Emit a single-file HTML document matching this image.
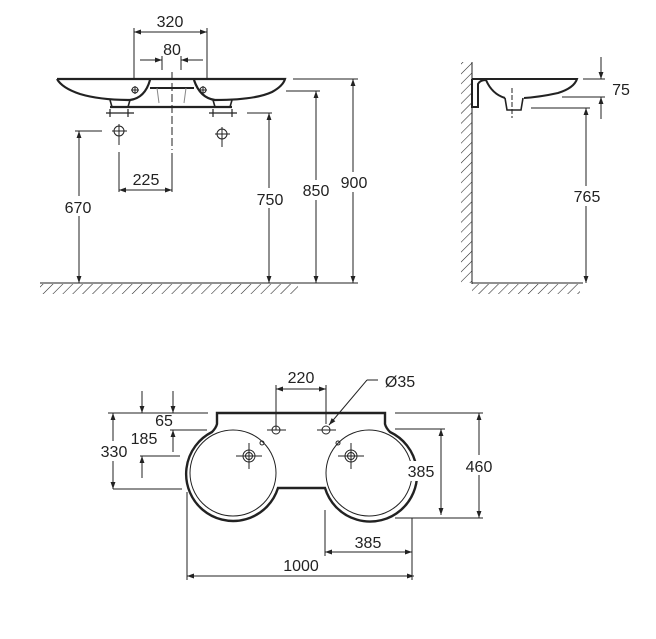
<!DOCTYPE html>
<html><head><meta charset="utf-8"><style>
html,body{margin:0;padding:0;background:#fff;}
svg{display:block;}
text{font-family:"Liberation Sans",sans-serif;font-size:16px;fill:#222;}
</style></head><body>
<svg width="656" height="639" viewBox="0 0 656 639" xmlns="http://www.w3.org/2000/svg">
<defs>
<marker id="a" viewBox="0 0 10 10" refX="10" refY="5" markerWidth="9" markerHeight="7" orient="auto-start-reverse" markerUnits="userSpaceOnUse"><path d="M0,1.5 L10,5 L0,8.5 Z" fill="#222"/></marker>
<pattern id="h" width="7" height="7" patternUnits="userSpaceOnUse" patternTransform="rotate(45)"><line x1="0" y1="0" x2="0" y2="7" stroke="#222" stroke-width="1.1"/></pattern>
</defs>
<g stroke="#222" fill="none" stroke-width="1">
<!-- FRONT VIEW -->
<rect x="40" y="284" width="258" height="10" fill="url(#h)" stroke="none"/>
<line x1="40" y1="283" x2="358" y2="283"/>
<path d="M57,79 H285 Q283,86 272,92 Q255,100 215,100 Q200,98 194,80 M57,79 Q62,88 80,94 Q100,100 130,100 Q145,98 150,80" stroke-width="2.2"/>
<line x1="150" y1="88" x2="194" y2="88" stroke-width="2"/>
<line x1="110" y1="107" x2="232" y2="107" stroke-width="2.2"/>
<path d="M157,88 L159,103 M186,88 L184,103" stroke="#888"/>
<path d="M110,100 L112,107 L128,107 L130,100 M213,100 L215,107 L230,107 L232,100" stroke-width="1.6"/>
<path d="M106,113 H134 M110,109 V117 M128,109 V117 M209,113 H237 M213,109 V117 M232,109 V117" stroke-width="1.2"/>
<circle cx="119" cy="131" r="5"/><path d="M112,131 H127 M119,124 V145"/>
<circle cx="222" cy="134" r="5"/><path d="M215,134 H230 M222,127 V147"/>
<circle cx="135" cy="90" r="3"/><path d="M131,90 H139 M135,86 V94"/>
<circle cx="203" cy="90" r="3"/><path d="M199,90 H207 M203,86 V94"/>
<line x1="172" y1="72" x2="172" y2="150" stroke-dasharray="8,3"/>
<line x1="172" y1="153" x2="172" y2="192"/>
<path d="M134,79 V28 M207,79 V28"/>
<line x1="134" y1="32" x2="207" y2="32" marker-start="url(#a)" marker-end="url(#a)"/>
<path d="M162,56 V70 M181,56 V70"/>
<line x1="140" y1="60" x2="162" y2="60" marker-end="url(#a)"/>
<line x1="203" y1="60" x2="181" y2="60" marker-end="url(#a)"/>
<line x1="119" y1="152" x2="119" y2="192"/>
<line x1="119" y1="190" x2="172" y2="190" marker-start="url(#a)" marker-end="url(#a)"/>
<line x1="75" y1="131" x2="102" y2="131"/>
<line x1="79" y1="131" x2="79" y2="283" marker-start="url(#a)" marker-end="url(#a)"/>
<line x1="247" y1="113" x2="272" y2="113"/>
<line x1="269" y1="113" x2="269" y2="283" marker-start="url(#a)" marker-end="url(#a)"/>
<line x1="286" y1="91" x2="320" y2="91"/>
<line x1="316" y1="91" x2="316" y2="283" marker-start="url(#a)" marker-end="url(#a)"/>
<line x1="293" y1="79" x2="358" y2="79"/>
<line x1="353" y1="79" x2="353" y2="283" marker-start="url(#a)" marker-end="url(#a)"/>

<!-- SIDE VIEW -->
<rect x="461" y="62" width="11" height="221" fill="url(#h)" stroke="none"/>
<rect x="472" y="284" width="108" height="10" fill="url(#h)" stroke="none"/>
<line x1="472" y1="62" x2="472" y2="284"/>
<line x1="472" y1="283" x2="583" y2="283"/>
<path d="M472,79 H577 Q574,88 558,93 Q540,97 524,98 M472,79 V107 H478 V84 Q480,80 486,80 M486,80 Q492,94 505,98" stroke-width="2"/>
<path d="M505,98 L507,110 H521 L523,98" stroke-width="1.6"/>
<line x1="512" y1="88" x2="512" y2="118" stroke-dasharray="5,2"/>
<line x1="583" y1="79" x2="605" y2="79"/>
<line x1="562" y1="97" x2="605" y2="97"/>
<line x1="601" y1="57" x2="601" y2="79" marker-end="url(#a)"/>
<line x1="601" y1="119" x2="601" y2="97" marker-end="url(#a)"/>
<line x1="531" y1="108" x2="590" y2="108"/>
<line x1="586" y1="108" x2="586" y2="283" marker-start="url(#a)" marker-end="url(#a)"/>

<!-- TOP VIEW -->
<path d="M217,424 V413 H385 V424 Q386,428 390,432 A47,47 0 1 1 325,488 H278 A47,47 0 1 1 212,432 Q216,428 217,424 Z" stroke-width="2.4"/>
<circle cx="233" cy="473" r="43"/>
<circle cx="369" cy="473" r="43"/>
<circle cx="249" cy="456" r="6"/><circle cx="249" cy="456" r="3.5"/><path d="M236,456 H262 M249,443 V469"/>
<circle cx="351" cy="456" r="6"/><circle cx="351" cy="456" r="3.5"/><path d="M338,456 H364 M351,443 V469"/>
<circle cx="276" cy="430" r="4"/><path d="M267,430 H286"/>
<circle cx="326" cy="430" r="4"/><path d="M317,430 H336"/>
<circle cx="262" cy="443" r="2"/><circle cx="338" cy="443" r="2"/>
<path d="M276,385 V430 M326,385 V424"/>
<line x1="276" y1="389" x2="326" y2="389" marker-start="url(#a)" marker-end="url(#a)"/>
<line x1="378" y1="380" x2="367" y2="380"/>
<line x1="367" y1="380" x2="329" y2="425" marker-end="url(#a)"/>
<line x1="108" y1="413" x2="208" y2="413"/>
<line x1="170" y1="430" x2="207" y2="430"/>
<line x1="140" y1="456" x2="180" y2="456"/>
<line x1="113" y1="489" x2="182" y2="489"/>
<line x1="113" y1="413" x2="113" y2="489" marker-start="url(#a)" marker-end="url(#a)"/>
<line x1="142" y1="391" x2="142" y2="413" marker-end="url(#a)"/>
<line x1="142" y1="478" x2="142" y2="456" marker-end="url(#a)"/>
<line x1="173" y1="391" x2="173" y2="413" marker-end="url(#a)"/>
<line x1="173" y1="452" x2="173" y2="430" marker-end="url(#a)"/>
<line x1="395" y1="413" x2="483" y2="413"/>
<line x1="395" y1="429" x2="445" y2="429"/>
<line x1="395" y1="518" x2="483" y2="518"/>
<line x1="441" y1="429" x2="441" y2="515" marker-start="url(#a)" marker-end="url(#a)"/>
<line x1="479" y1="413" x2="479" y2="518" marker-start="url(#a)" marker-end="url(#a)"/>
<line x1="325" y1="510" x2="325" y2="556"/>
<line x1="412" y1="518" x2="412" y2="580"/>
<line x1="187" y1="492" x2="187" y2="580"/>
<line x1="325" y1="552" x2="412" y2="552" marker-start="url(#a)" marker-end="url(#a)"/>
<line x1="187" y1="576" x2="414" y2="576" marker-start="url(#a)" marker-end="url(#a)"/>
</g>
<g fill="#fff">
<rect x="61" y="196" width="36" height="20"/>
<rect x="252" y="188" width="36" height="20"/>
<rect x="298" y="180" width="36" height="20"/>
<rect x="336" y="172" width="36" height="20"/>
<rect x="569" y="186" width="36" height="20"/>
<rect x="404" y="461" width="36" height="20"/>
<rect x="461" y="455" width="36" height="20"/>
<rect x="98" y="441" width="32" height="20"/>
</g>
<g text-anchor="middle">
<text x="170" y="27">320</text>
<text x="172" y="55">80</text>
<text x="146" y="185">225</text>
<text x="78" y="213">670</text>
<text x="270" y="205">750</text>
<text x="316" y="196">850</text>
<text x="354" y="188">900</text>
<text x="621" y="95">75</text>
<text x="587" y="202">765</text>
<text x="301" y="383">220</text>
<text x="400" y="387">Ø35</text>
<text x="164" y="426">65</text>
<text x="144" y="444">185</text>
<text x="114" y="457">330</text>
<text x="421" y="477">385</text>
<text x="479" y="472">460</text>
<text x="368" y="548">385</text>
<text x="301" y="571">1000</text>
</g>
</svg>
</body></html>
